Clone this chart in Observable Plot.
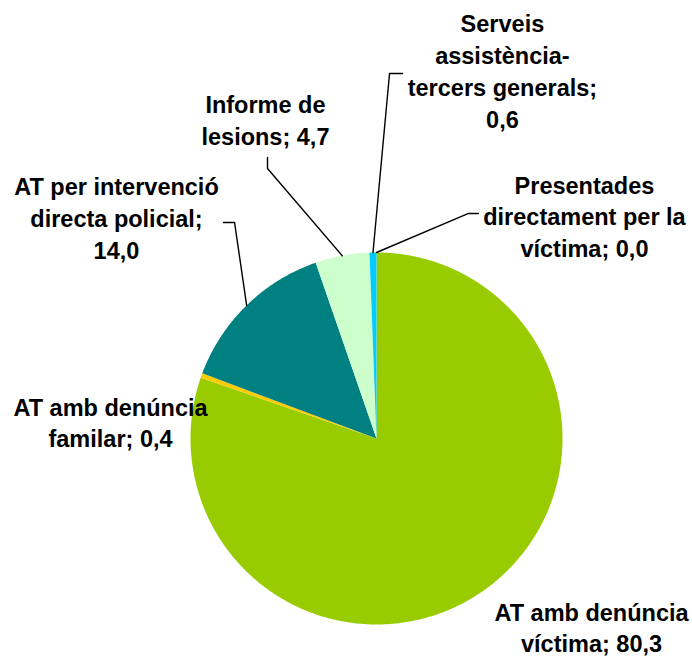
<!DOCTYPE html>
<html><head><meta charset="utf-8">
<script src="https://cdn.jsdelivr.net/npm/d3@7"></script>
<script src="https://cdn.jsdelivr.net/npm/@observablehq/plot@0.6"></script>
<style>html,body{margin:0;padding:0;background:#fff;} svg{display:block}</style>
</head><body><div id="chart"></div>
<script>
// ---- data (clockwise from 12 o'clock, as in the reference) ----
const categories = [
  "Presentades directament per la víctima",
  "AT amb denúncia víctima",
  "AT amb denúncia familar",
  "AT per intervenció directa policial",
  "Informe de lesions",
  "Serveis assistència-tercers generals"
];
const values = [0.0, 80.3, 0.4, 14.0, 4.7, 0.6];
const labelTexts = [
  "Presentades\ndirectament per la\nvíctima; ",
  "AT amb denúncia\nvíctima; ",
  "AT amb denúncia\nfamilar; ",
  "AT per intervenció\ndirecta policial;\n",
  "Informe de\nlesions; ",
  "Serveis\nassistència-\ntercers generals;\n"
];
const colors = ["#993366", "#99CC00", "#FFCC00", "#008080", "#CCFFCC", "#00CCFF"];

// ---- layout (in units of the pie radius, centre = 0,0) ----
const labelX = [1.118, 1.156, -1.430, -1.398, -0.597, 0.677];
const labelY = [0.976, -1.150, -0.047, 0.966, 1.577, 1.672];
const leaderElbow = [[0.495, 1.210], null, null, [-0.763, 1.161], [-0.586, 1.452], [0.070, 1.962]];
const leaderEnd   = [[0.548, 1.210], null, null, [-0.823, 1.161], [-0.586, 1.511], [0.140, 1.962]];

const fmt = d3.formatLocale({decimal: ",", thousands: ".", grouping: [3], currency: ["", "€"]}).format(".1f");

const arcs = d3.pie().sort(null).value(d => d)(values);
const slices = [];
arcs.forEach((a, i) => {
  const cat = categories[i];
  const span = a.endAngle - a.startAngle;
  const n = Math.max(2, Math.ceil(span / (Math.PI / 360)));
  slices.push({cat, x: 0, y: 0});
  for (let k = 0; k <= n; k++) {
    const t = a.startAngle + span * k / n;
    slices.push({cat, x: Math.sin(t), y: Math.cos(t)});
  }
  slices.push({cat, x: 0, y: 0});
});

const leaders = [];
arcs.forEach((a, i) => {
  if (!leaderElbow[i]) return;
  const m = (a.startAngle + a.endAngle) / 2;
  leaders.push({cat: categories[i], x: Math.sin(m), y: Math.cos(m)});
  leaders.push({cat: categories[i], x: leaderElbow[i][0], y: leaderElbow[i][1]});
  leaders.push({cat: categories[i], x: leaderEnd[i][0], y: leaderEnd[i][1]});
});

const labels = categories.map((c, i) => ({cat: c, x: labelX[i], y: labelY[i], text: labelTexts[i] + fmt(values[i])}));

const chart = Plot.plot({
  width: 692,
  height: 658,
  margin: 0,
  style: {background: "white"},
  x: {domain: [-1, 1], range: [190, 562], axis: null},
  y: {domain: [-1, 1], range: [624, 252], axis: null},
  color: {domain: categories, range: colors},
  marks: [
    Plot.line(slices, {x: "x", y: "y", z: "cat", fill: "cat", stroke: "none"}),
    Plot.line(leaders, {x: "x", y: "y", z: "cat", stroke: "black", strokeWidth: 1.4}),
    Plot.text(labels, {
      x: "x", y: "y", text: "text",
      textAnchor: "middle", lineAnchor: "bottom", lineHeight: 1.35,
      fontSize: 23.5, fontWeight: "bold",
      fontFamily: "'Liberation Sans', Arial, sans-serif",
      fill: "black"
    })
  ]
});
document.getElementById("chart").appendChild(chart);
</script>
</body></html>
